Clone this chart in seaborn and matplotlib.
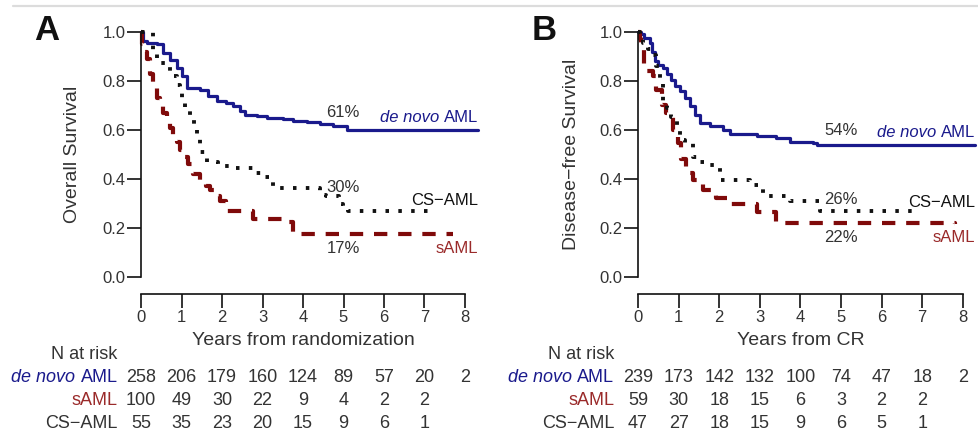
import matplotlib
matplotlib.use("Agg")
import matplotlib.pyplot as plt
import matplotlib.transforms as mtrans
from matplotlib.lines import Line2D
import numpy as np
import pandas as pd
import seaborn as sns

# ---------------- data ----------------
groups = ["de novo AML", "sAML", "CS-AML"]

# Panel A: overall survival (step curves: time of change, survival after)
a_denovo_t = [0, 0.05, 0.15, 0.39, 0.55, 0.72, 0.88, 1.0, 1.13, 1.46, 1.66, 1.87, 2.1, 2.28, 2.44, 2.57, 2.86, 3.1, 3.5, 3.76, 4.1, 4.42, 4.75, 5.08, 8.33]
a_denovo_s = [1.0, 0.965, 0.955, 0.95, 0.915, 0.887, 0.853, 0.82, 0.77, 0.762, 0.737, 0.717, 0.71, 0.697, 0.676, 0.663, 0.656, 0.65, 0.645, 0.635, 0.631, 0.626, 0.617, 0.60, 0.60]
a_saml_t = [0, 0.03, 0.08, 0.14, 0.22, 0.3, 0.4, 0.47, 0.55, 0.63, 0.72, 0.8, 0.9, 0.96, 1.05, 1.17, 1.29, 1.46, 1.6, 1.7, 1.85, 1.95, 2.1, 2.77, 3.6, 3.76, 7.71]
a_saml_s = [1.0, 0.95, 0.92, 0.89, 0.83, 0.77, 0.73, 0.70, 0.67, 0.64, 0.61, 0.58, 0.55, 0.52, 0.49, 0.46, 0.42, 0.39, 0.37, 0.355, 0.33, 0.31, 0.27, 0.235, 0.225, 0.175, 0.175]
a_cs_t = [0, 0.3, 0.39, 0.5, 0.63, 0.72, 0.8, 0.88, 0.96, 1.02, 1.09, 1.2, 1.3, 1.38, 1.46, 1.62, 1.9, 2.28, 2.77, 3.02, 3.27, 4.42, 4.58, 4.9, 4.99, 5.1, 7.14]
a_cs_s = [1.0, 0.92, 0.89, 0.875, 0.86, 0.84, 0.82, 0.785, 0.75, 0.71, 0.68, 0.65, 0.615, 0.575, 0.51, 0.47, 0.455, 0.445, 0.425, 0.41, 0.363, 0.336, 0.33, 0.30, 0.285, 0.268, 0.268]

# Panel B: disease-free survival
b_denovo_t = [0, 0.08, 0.16, 0.29, 0.35, 0.41, 0.5, 0.62, 0.72, 0.82, 0.92, 1.03, 1.15, 1.27, 1.4, 1.52, 1.77, 2.1, 2.26, 2.92, 3.41, 3.74, 4.32, 4.4, 8.3]
b_denovo_s = [1.0, 0.99, 0.975, 0.955, 0.92, 0.88, 0.865, 0.853, 0.83, 0.805, 0.78, 0.758, 0.73, 0.697, 0.66, 0.628, 0.618, 0.60, 0.585, 0.577, 0.567, 0.55, 0.547, 0.54, 0.54]
b_saml_t = [0, 0.04, 0.08, 0.16, 0.37, 0.45, 0.58, 0.7, 0.78, 0.86, 0.99, 1.07, 1.19, 1.36, 1.6, 1.93, 2.26, 2.92, 3.41, 7.81]
b_saml_s = [1.0, 0.97, 0.935, 0.84, 0.82, 0.765, 0.70, 0.67, 0.656, 0.60, 0.547, 0.48, 0.424, 0.397, 0.356, 0.322, 0.30, 0.265, 0.22, 0.218]
b_cs_t = [0, 0.05, 0.12, 0.25, 0.37, 0.45, 0.53, 0.62, 0.72, 0.82, 0.95, 1.03, 1.15, 1.36, 1.5, 1.77, 2.01, 2.76, 3.08, 3.74, 4.48, 6.78]
b_cs_s = [1.0, 0.98, 0.955, 0.93, 0.907, 0.86, 0.805, 0.72, 0.69, 0.655, 0.60, 0.56, 0.547, 0.49, 0.47, 0.458, 0.397, 0.377, 0.33, 0.31, 0.268, 0.26]

# percentages printed on curves
a_pct = ["61%", "17%", "30%"]
b_pct = ["54%", "22%", "26%"]

# numbers at risk at years 0..8
risk_years = [0, 1, 2, 3, 4, 5, 6, 7, 8]
a_risk_denovo = [258, 206, 179, 160, 124, 89, 57, 20, 2]
a_risk_saml = [100, 49, 30, 22, 9, 4, 2, 2]
a_risk_cs = [55, 35, 23, 20, 15, 9, 6, 1]
b_risk_denovo = [239, 173, 142, 132, 100, 74, 47, 18, 2]
b_risk_saml = [59, 30, 18, 15, 6, 3, 2, 2]
b_risk_cs = [47, 27, 18, 15, 9, 6, 5, 1]

x_ticks = [0, 1, 2, 3, 4, 5, 6, 7, 8]
y_ticks = [0.0, 0.2, 0.4, 0.6, 0.8, 1.0]
y_ticklabels = ["0.0", "0.2", "0.4", "0.6", "0.8", "1.0"]

# ---------------- style ----------------
sns.set_theme(style="white")
plt.rcParams["font.family"] = ["Liberation Sans", "DejaVu Sans"]

BLUE = "#1a1a8c"
RED = "#7f0a0a"
RED_TXT = "#9a2a2a"
BLACK = "#111111"
GRAY_TXT = "#333333"
FS = 12        # ticks and in-plot labels
FS_LAB = 14    # axis titles
FS_TAB = 13    # risk table

W, H = 979, 436
fig = plt.figure(figsize=(W / 100, H / 100), dpi=100)

def fy(py):
    return 1 - py / H

# top rule
fig.add_artist(Line2D([13 / W, 1.0], [fy(6.5), fy(6.5)], color="#dcdcdc", lw=1.6,
                      transform=fig.transFigure))

panels = [
    dict(x0=141, per=40.5, letter="A", ylabel="Overall Survival", xlabel="Years from randomization",
         curves=[(a_denovo_t, a_denovo_s), (a_saml_t, a_saml_s), (a_cs_t, a_cs_s)],
         pct=a_pct, pct_y=[0.67, 0.118, 0.367], lab_y=[0.65, 0.118, 0.314], lab_x=8.32,
         risk=[a_risk_denovo, a_risk_saml, a_risk_cs], letter_x=47, ylab_px=81),
    dict(x0=638, per=40.6, letter="B", ylabel="Disease\u2212free Survival", xlabel="Years from CR",
         curves=[(b_denovo_t, b_denovo_s), (b_saml_t, b_saml_s), (b_cs_t, b_cs_s)],
         pct=b_pct, pct_y=[0.60, 0.163, 0.318], lab_y=[0.588, 0.163, 0.306], lab_x=8.3,
         risk=[b_risk_denovo, b_risk_saml, b_risk_cs], letter_x=544, ylab_px=580),
]

colors = [BLUE, RED, BLACK]
styles = [dict(lw=2.3, linestyle="-"),
          dict(lw=3.0, linestyle=(0, (3.2, 2.6)), dash_capstyle="butt"),
          dict(lw=2.8, linestyle=(0, (0.9, 2.4)), dash_capstyle="butt")]

XMAX = 8.4
y_top, y_bot = 32, 277

for p in panels:
    axw = XMAX * p["per"]
    ax = fig.add_axes([p["x0"] / W, fy(y_bot), axw / W, (y_bot - y_top) / H])
    for (t, s), col, st, name in zip(p["curves"], colors, styles, groups):
        df = pd.DataFrame({"t": t, "s": s})
        sns.lineplot(data=df, x="t", y="s", ax=ax, color=col, estimator=None, sort=False,
                     drawstyle="steps-post", legend=False, clip_on=False, **st)
    ax.set_xlim(0, XMAX)
    ax.set_ylim(0, 1)
    for sp in ["top", "right"]:
        ax.spines[sp].set_visible(False)
    ax.spines["left"].set_bounds(0, 1)
    ax.spines["bottom"].set_bounds(0, 8)
    ax.spines["bottom"].set_position(("outward", 12))
    for sp in ["left", "bottom"]:
        ax.spines[sp].set_color("#111111")
        ax.spines[sp].set_linewidth(1.2)
    ax.set_xticks(x_ticks)
    ax.set_xticklabels([str(v) for v in x_ticks])
    ax.set_yticks(y_ticks)
    ax.set_yticklabels(y_ticklabels)
    ax.tick_params(axis="both", direction="out", length=10, width=1.2, color="#111111",
                   labelsize=FS, labelcolor=GRAY_TXT, left=True, bottom=True)
    ax.tick_params(axis="y", pad=1)
    ax.tick_params(axis="x", pad=2)
    ax.set_xlabel("")
    ax.set_ylabel(p["ylabel"], fontsize=FS_LAB, color=GRAY_TXT)
    ax.yaxis.set_label_coords((p["ylab_px"] - p["x0"]) / axw, 0.5)
    ax.grid(False)

    # curve annotations
    for i in range(3):
        ax.text(4.99, p["pct_y"][i], p["pct"][i], fontsize=FS, color=GRAY_TXT,
                ha="center", va="center")
    aml = ax.text(p["lab_x"], p["lab_y"][0], "AML", fontsize=FS, color=BLUE, ha="right", va="center")
    ax.annotate("de novo", xy=(0, 0), xycoords=aml, xytext=(-3.5, 0), textcoords="offset points",
                fontsize=FS, color=BLUE, style="italic", ha="right", va="bottom")
    ax.text(p["lab_x"], p["lab_y"][1], "sAML", fontsize=FS, color=RED_TXT, ha="right", va="center")
    ax.text(p["lab_x"], p["lab_y"][2], "CS\u2212AML", fontsize=FS, color=BLACK, ha="right", va="center")

    # panel letter
    fig.text(p["letter_x"] / W, fy(31), p["letter"], fontsize=25, fontweight="bold",
             ha="center", va="center", color="#111111")

    # x label and risk table
    tr = mtrans.blended_transform_factory(ax.transData, fig.transFigure)
    ax.text(4.0, fy(340), p["xlabel"], transform=tr, fontsize=FS_LAB, color=GRAY_TXT,
            ha="center", va="center")
    lab_x = -0.58
    ax.text(lab_x, fy(354), "N at risk", transform=tr, fontsize=FS_TAB, color=GRAY_TXT,
            ha="right", va="center")
    row_y = [377, 400, 423]
    a2 = ax.text(lab_x, fy(row_y[0]), "AML", transform=tr, fontsize=FS_TAB, color=BLUE,
                 ha="right", va="center")
    ax.annotate("de novo", xy=(0, 0), xycoords=a2, xytext=(-3.8, 0), textcoords="offset points",
                fontsize=FS_TAB, color=BLUE, style="italic", ha="right", va="bottom")
    ax.text(lab_x, fy(row_y[1]), "sAML", transform=tr, fontsize=FS_TAB, color=RED_TXT,
            ha="right", va="center")
    ax.text(lab_x, fy(row_y[2]), "CS\u2212AML", transform=tr, fontsize=FS_TAB, color=GRAY_TXT,
            ha="right", va="center")
    for vals, ry in zip(p["risk"], row_y):
        for yr, v in zip(risk_years, vals):
            ax.text(yr, fy(ry), str(v), transform=tr, fontsize=FS_TAB, color=GRAY_TXT,
                    ha="center", va="center")

fig.savefig("out.png", dpi=100)
